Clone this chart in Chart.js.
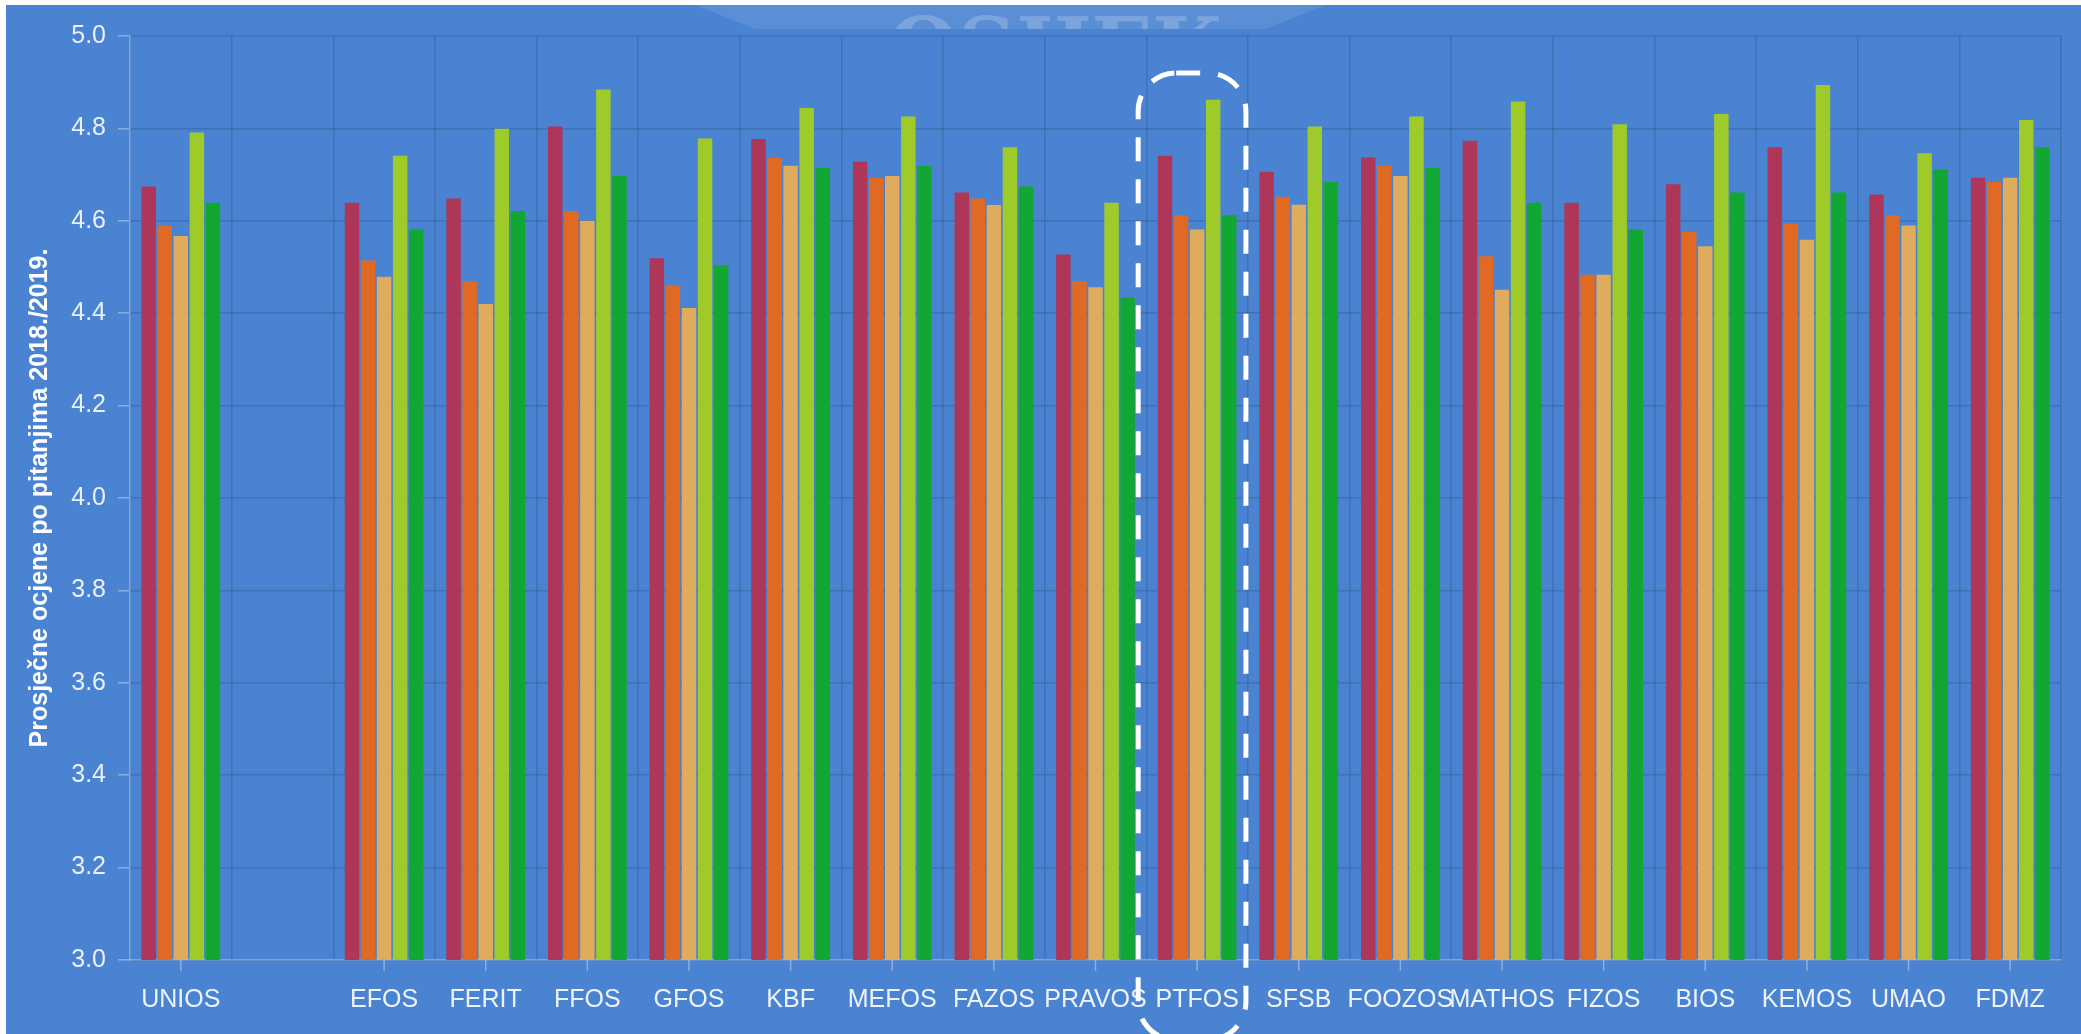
<!DOCTYPE html>
<html lang="hr">
<head>
  <meta charset="UTF-8" />
  <title>Prosječne ocjene po pitanjima 2018./2019.</title>
  <script src="https://cdn.jsdelivr.net/npm/chart.js"></script>
  <style>
    html, body {
      margin: 0;
      padding: 0;
      background: #fff;
      overflow: hidden;
    }
    #okvir {
      position: absolute;
      left: 6px;
      top: 5px;
      width: 2075px;
      height: 1029px;
      background: #4a83d1;
    }
  </style>
</head>
<body>
  <div id="okvir"><canvas id="grafikon"></canvas></div>

  <script>
    // sastavnice (prazno mjesto iza UNIOS-a je namjerno)
    const sastavnice = ['UNIOS', '', 'EFOS', 'FERIT', 'FFOS', 'GFOS', 'KBF', 'MEFOS', 'FAZOS', 'PRAVOS',
      'PTFOS', 'SFSB', 'FOOZOS', 'MATHOS', 'FIZOS', 'BIOS', 'KEMOS', 'UMAO', 'FDMZ'];

    const pitanje1 = [4.674, null, 4.639, 4.648, 4.804, 4.519, 4.777, 4.728, 4.661, 4.527,
      4.741, 4.706, 4.737, 4.773, 4.639, 4.679, 4.759, 4.657, 4.693];
    const pitanje2 = [4.590, null, 4.514, 4.469, 4.621, 4.460, 4.736, 4.693, 4.648, 4.469,
      4.612, 4.652, 4.719, 4.523, 4.483, 4.576, 4.594, 4.612, 4.684];
    const pitanje3 = [4.567, null, 4.479, 4.420, 4.600, 4.411, 4.719, 4.697, 4.634, 4.456,
      4.581, 4.635, 4.697, 4.451, 4.483, 4.545, 4.559, 4.590, 4.693];
    const pitanje4 = [4.791, null, 4.741, 4.799, 4.884, 4.778, 4.844, 4.826, 4.759, 4.639,
      4.862, 4.804, 4.826, 4.858, 4.809, 4.831, 4.894, 4.746, 4.818];
    const pitanje5 = [4.639, null, 4.581, 4.621, 4.697, 4.504, 4.715, 4.719, 4.674, 4.434,
      4.612, 4.684, 4.715, 4.639, 4.581, 4.661, 4.661, 4.711, 4.759];

    const boje = ['#ad3659', '#e06a24', '#dfab5d', '#9ecb2a', '#12a733'];
    const istaknuto = 'PTFOS';

    const svijetlo = 'rgba(255,255,255,0.35)';
    const tamno = 'rgba(0,0,0,0.13)';

    // blijedi pečat iznad grafa
    const pecat = {
      id: 'pecat',
      beforeDraw(chart) {
        const ctx = chart.ctx;
        const cx = chart.width * 0.484;
        const dno = chart.chartArea.top - 7;
        ctx.save();
        ctx.beginPath();
        ctx.rect(0, 0, chart.width, dno);
        ctx.clip();
        ctx.fillStyle = 'rgba(255,255,255,0.09)';
        ctx.beginPath();
        ctx.moveTo(cx - 315, 0);
        ctx.lineTo(cx + 315, 0);
        ctx.lineTo(cx + 255, dno);
        ctx.lineTo(cx - 255, dno);
        ctx.closePath();
        ctx.fill();
        ctx.fillStyle = 'rgba(255,255,255,0.2)';
        ctx.font = 'bold 80px "DejaVu Serif", serif';
        ctx.textAlign = 'center';
        ctx.textBaseline = 'alphabetic';
        ctx.fillText('OSIJEK', cx + 45, 70);
        ctx.restore();
      }
    };

    // crtice na osi x na sredini kategorije + isprekidani okvir oko PTFOS-a
    const dodaci = {
      id: 'dodaci',
      afterDraw(chart) {
        const ctx = chart.ctx;
        const x = chart.scales.x;
        const y = chart.scales.y;
        ctx.save();
        ctx.strokeStyle = svijetlo;
        ctx.lineWidth = 1.5;
        sastavnice.forEach((s, i) => {
          if (!s) return;
          const px = x.getPixelForTick(i);
          ctx.beginPath();
          ctx.moveTo(px, x.top);
          ctx.lineTo(px, x.top + 11);
          ctx.stroke();
        });

        const i = sastavnice.indexOf(istaknuto);
        const cx = x.getPixelForValue(i);
        const w = x.width / sastavnice.length;
        const l = cx - 0.58 * w;
        const r = cx + 0.48 * w;
        const t = y.getPixelForValue(4.92);
        const b = chart.height + 6;
        ctx.setLineDash([24, 18]);
        ctx.lineWidth = 5;
        ctx.strokeStyle = '#fff';
        ctx.beginPath();
        ctx.roundRect(l, t, r - l, b - t, 38);
        ctx.stroke();
        ctx.restore();
      }
    };

    const serije = [pitanje1, pitanje2, pitanje3, pitanje4, pitanje5];

    new Chart(document.getElementById('grafikon'), {
      type: 'bar',
      data: {
        labels: sastavnice,
        datasets: serije.map((podaci, k) => ({
          label: 'Pitanje ' + (k + 1),
          data: podaci,
          backgroundColor: boje[k],
          borderWidth: 0,
          categoryPercentage: 0.79,
          barPercentage: 0.9
        }))
      },
      options: {
        responsive: true,
        maintainAspectRatio: false,
        animation: false,
        devicePixelRatio: 1,
        layout: { padding: { top: 31, right: 20, left: 0, bottom: 0 } },
        plugins: {
          legend: { display: false },
          tooltip: { enabled: false }
        },
        scales: {
          x: {
            grid: { color: tamno, lineWidth: 1.5, offset: true, drawTicks: false },
            border: { color: svijetlo, width: 1.5 },
            ticks: {
              color: 'rgba(255,255,255,0.9)',
              padding: 25,
              maxRotation: 0,
              autoSkip: false,
              font: { family: '"Liberation Sans", Arial, sans-serif', size: 25 }
            },
            afterFit(s) { s.height = 74; }
          },
          y: {
            min: 3,
            max: 5,
            grid: { color: tamno, lineWidth: 1.5, tickColor: svijetlo, tickLength: 12 },
            border: { color: svijetlo, width: 1.5 },
            ticks: {
              stepSize: 0.2,
              color: 'rgba(255,255,255,0.88)',
              padding: 12,
              font: { family: '"Liberation Sans", Arial, sans-serif', size: 25 },
              callback: v => v.toFixed(1)
            },
            title: {
              display: true,
              text: 'Prosječne ocjene po pitanjima 2018./2019.',
              color: '#fff',
              padding: { top: 19, bottom: 0 },
              font: { family: '"Liberation Sans", Arial, sans-serif', size: 25, weight: 'bold' }
            },
            afterFit(s) { s.width = 124; }
          }
        }
      },
      plugins: [pecat, dodaci]
    });
  </script>
</body>
</html>
